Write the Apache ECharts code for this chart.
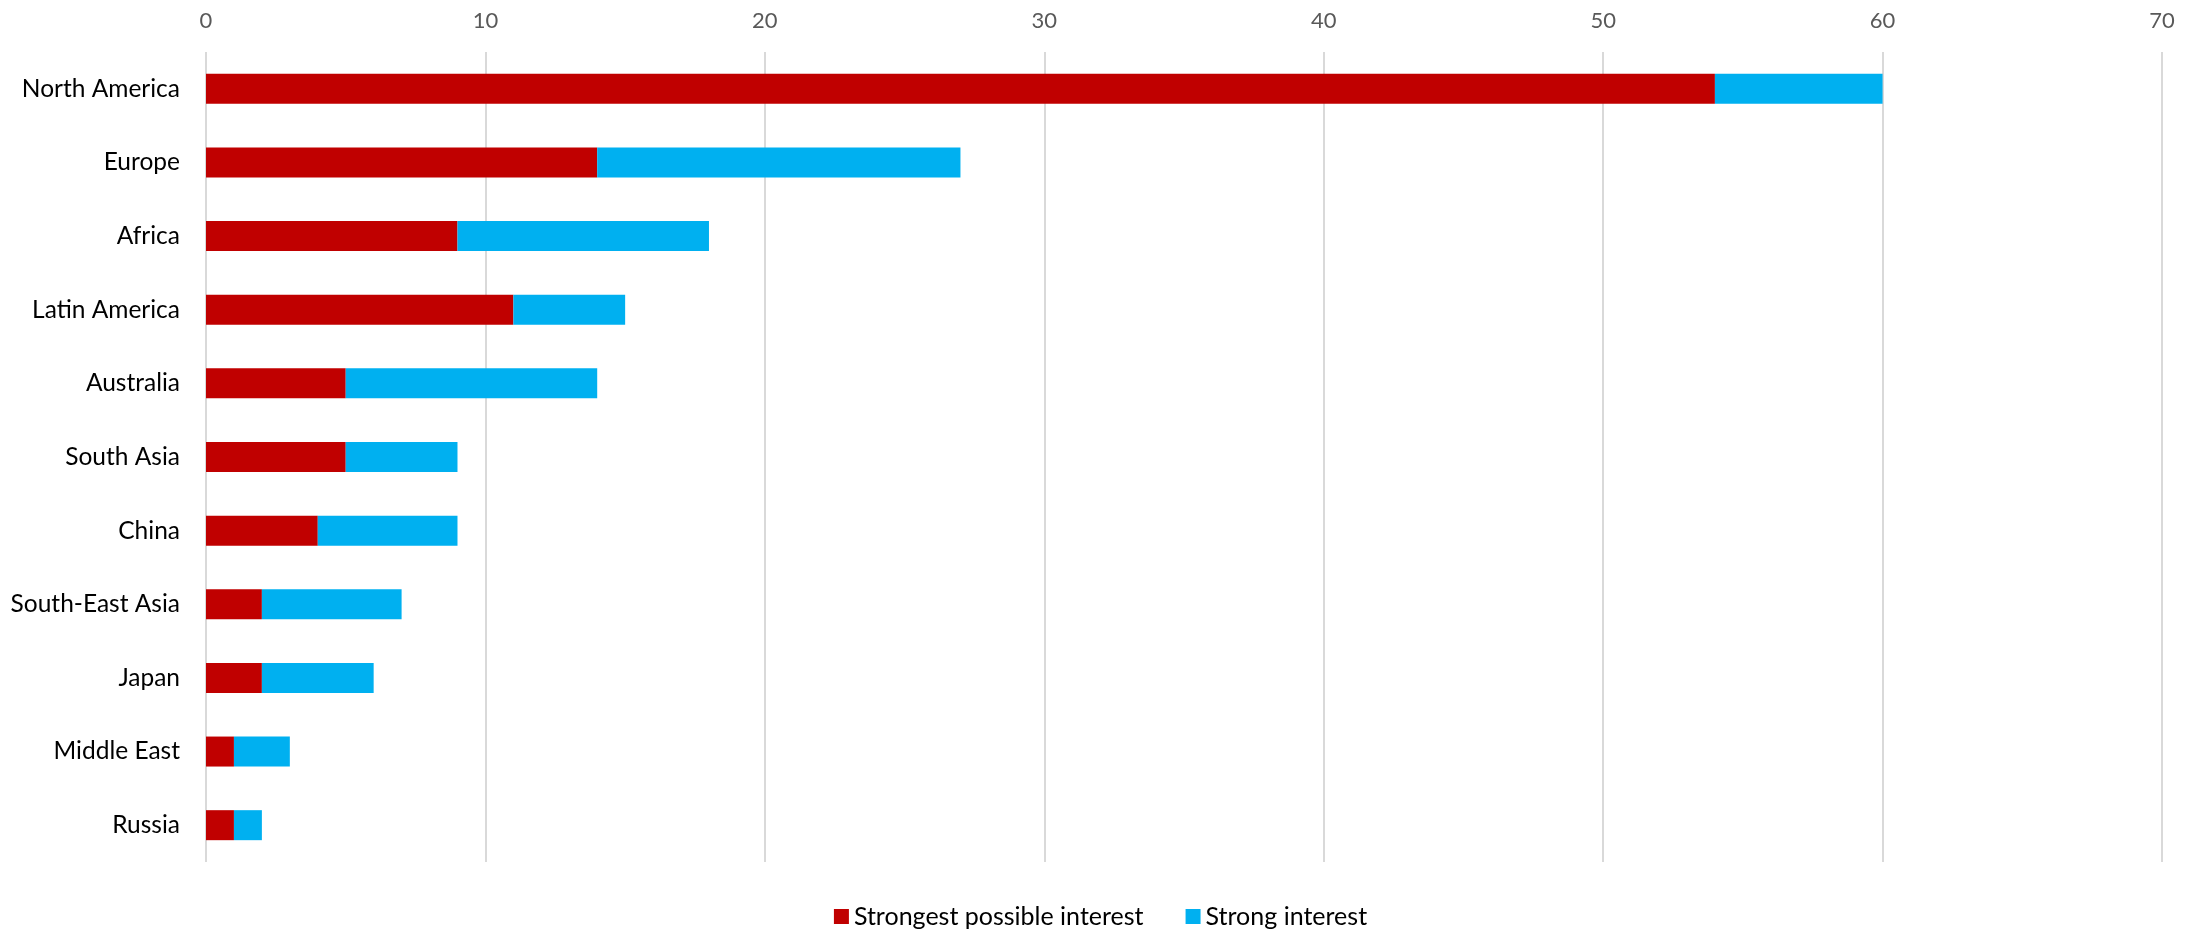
<!DOCTYPE html>
<html>
<head>
<meta charset="utf-8">
<script src="https://cdn.jsdelivr.net/npm/echarts@6/dist/echarts.min.js"></script>
<style>html,body{margin:0;padding:0;background:#fff}#c{width:2201px;height:932px}</style>
</head>
<body>
<div id="c"></div>
<script>
const categories = ["North America","Europe","Africa","Latin America","Australia","South Asia","China","South-East Asia","Japan","Middle East","Russia"];
const strongestPossible = [54,14,9,11,5,5,4,2,2,1,1];
const strongInterest = [6,13,9,4,9,4,5,5,4,2,1];
const seriesNames = ["Strongest possible interest","Strong interest"];
const xTicks = {min:0,max:70,interval:10};

const font = "Lato, 'Open Sans', sans-serif";
const chart = echarts.init(document.getElementById('c'));
chart.setOption({
  animation:false,
  textStyle:{fontFamily:font},
  grid:{left:206,right:39,top:52,bottom:70,containLabel:false},
  legend:{
    bottom:-2,left:'center',itemWidth:15,itemHeight:15,itemGap:42,
    icon:'rect',
    textStyle:{fontFamily:font,fontSize:25,color:'#000'},
    data:seriesNames
  },
  xAxis:{
    type:'value',position:'top',min:xTicks.min,max:xTicks.max,interval:xTicks.interval,
    axisLine:{show:false},axisTick:{show:false},
    axisLabel:{fontFamily:font,fontSize:22,color:'#595959',margin:20},
    splitLine:{lineStyle:{color:'#d9d9d9',width:2}}
  },
  yAxis:{
    type:'category',data:categories,inverse:true,
    axisLine:{show:false},axisTick:{show:false},
    axisLabel:{fontFamily:font,fontSize:24.5,color:'#000',margin:26}
  },
  series:[
    {name:seriesNames[0],type:'bar',stack:'s',data:strongestPossible,barWidth:30,
     itemStyle:{color:'#c00000'}},
    {name:seriesNames[1],type:'bar',stack:'s',data:strongInterest,barWidth:30,
     itemStyle:{color:'#00b0f0'}}
  ]
});
</script>
</body>
</html>
